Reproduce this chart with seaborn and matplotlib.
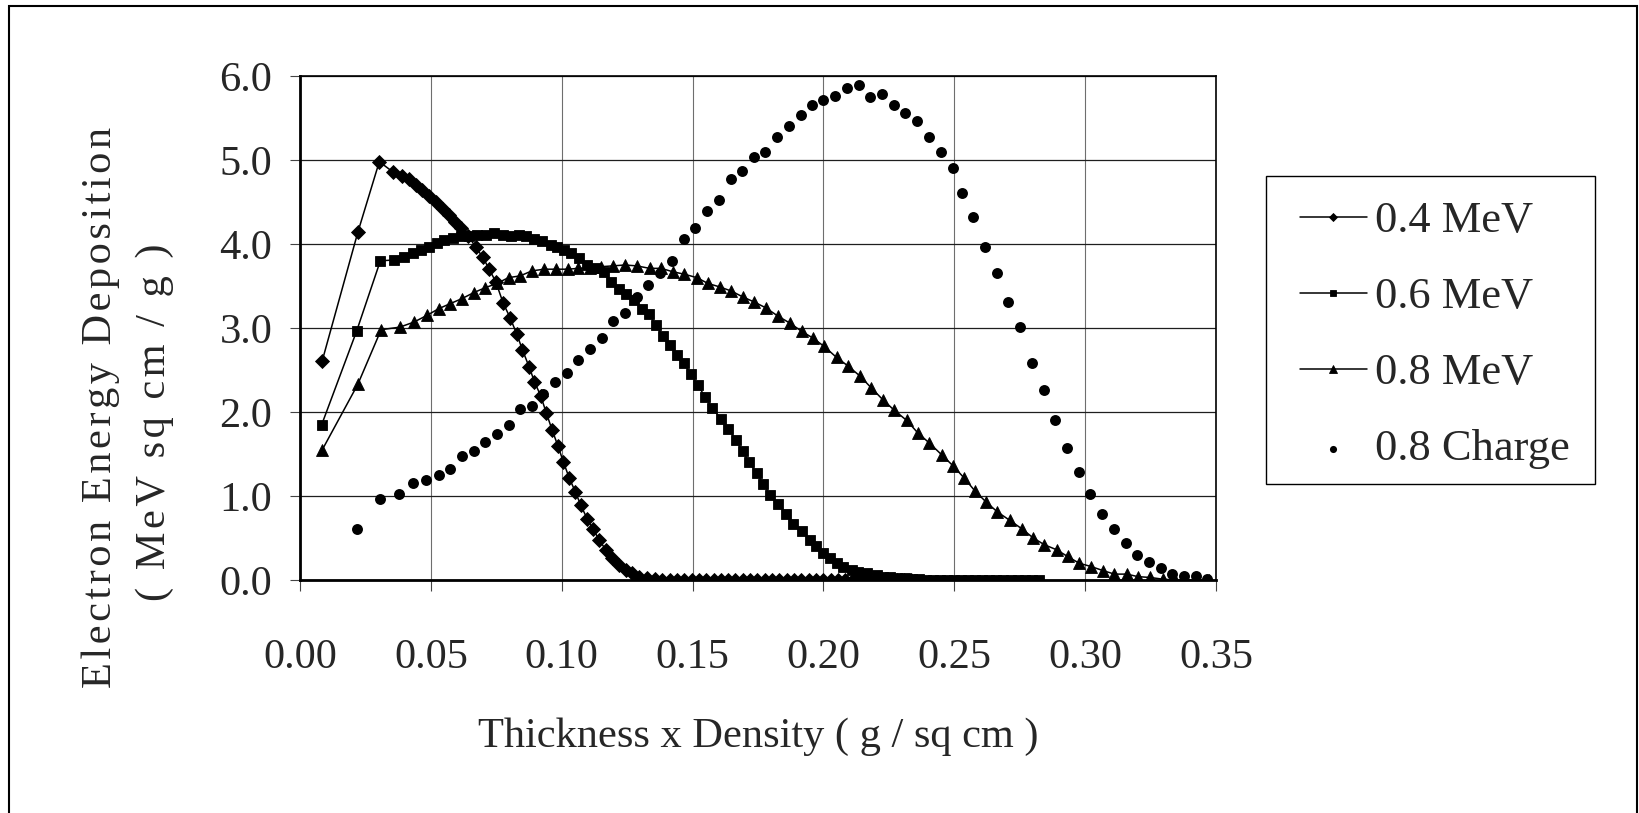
import matplotlib
matplotlib.use("Agg")
import matplotlib.pyplot as plt
from matplotlib.patches import Rectangle
import seaborn as sns

# values
x_04 = [0.0085, 0.0221, 0.0303, 0.0354, 0.0388, 0.0417, 0.0443, 0.0468, 0.0494, 0.0519,
        0.0545, 0.0568, 0.0593, 0.0617, 0.0642, 0.0672, 0.0699, 0.0723, 0.0748, 0.0776,
        0.0803, 0.0828, 0.0850, 0.0875, 0.0896, 0.0920, 0.0941, 0.0963, 0.0985, 0.1006,
        0.1028, 0.1052, 0.1073, 0.1097, 0.1119, 0.1143, 0.1168, 0.1193, 0.1219, 0.1244,
        0.1270, 0.1296, 0.1325, 0.1355,
        0.1384, 0.1412, 0.1440, 0.1468, 0.1496, 0.1524, 0.1552, 0.1580, 0.1608, 0.1636,
        0.1664, 0.1692, 0.1720, 0.1748, 0.1776, 0.1804, 0.1832, 0.1860, 0.1888, 0.1916,
        0.1944, 0.1972, 0.2000, 0.2028, 0.2056, 0.2084, 0.2112, 0.2140, 0.2168, 0.2196,
        0.2224, 0.2252, 0.2280, 0.2308, 0.2336]
y_04 = [2.61, 4.14, 4.98, 4.86, 4.81, 4.77, 4.70, 4.64, 4.57, 4.50,
        4.42, 4.34, 4.26, 4.19, 4.10, 3.96, 3.84, 3.70, 3.55, 3.30,
        3.12, 2.93, 2.74, 2.54, 2.36, 2.19, 1.99, 1.79, 1.60, 1.41,
        1.22, 1.05, 0.89, 0.73, 0.61, 0.48, 0.36, 0.26, 0.18, 0.12,
        0.08, 0.04, 0.02, 0.01,
        0.0, 0.0, 0.0, 0.0, 0.0, 0.0, 0.0, 0.0, 0.0, 0.0,
        0.0, 0.0, 0.0, 0.0, 0.0, 0.0, 0.0, 0.0, 0.0, 0.0,
        0.0, 0.0, 0.0, 0.0, 0.0, 0.0, 0.0, 0.0, 0.0, 0.0,
        0.0, 0.0, 0.0, 0.0, 0.0]

x_06 = [0.0083, 0.0216, 0.0307, 0.0360, 0.0396, 0.0430, 0.0462, 0.0494, 0.0523, 0.0551,
        0.0583, 0.0615, 0.0646, 0.0678, 0.0710, 0.0742, 0.0774, 0.0805, 0.0837, 0.0863,
        0.0894, 0.0926, 0.0958, 0.0983, 0.1009, 0.1034, 0.1066, 0.1098, 0.1130, 0.1162,
        0.1187, 0.1219, 0.1244, 0.1276, 0.1308, 0.1333, 0.1359, 0.1387, 0.1415, 0.1440,
        0.1466, 0.1494, 0.1520, 0.1548, 0.1574, 0.1608, 0.1637, 0.1665, 0.1692, 0.1716,
        0.1746, 0.1771, 0.1796, 0.1826, 0.1858, 0.1885, 0.1917, 0.1947, 0.1972, 0.1997,
        0.2025, 0.2051, 0.2076, 0.2108, 0.2134, 0.2165, 0.2204, 0.2229,
        0.2256, 0.2283, 0.2310, 0.2337, 0.2364, 0.2391, 0.2418, 0.2445, 0.2472, 0.2499,
        0.2526, 0.2553, 0.2580, 0.2607, 0.2634, 0.2661, 0.2688, 0.2715, 0.2742, 0.2769,
        0.2796, 0.2823]
y_06 = [1.85, 2.96, 3.80, 3.81, 3.85, 3.89, 3.93, 3.97, 4.01, 4.05,
        4.07, 4.09, 4.10, 4.11, 4.11, 4.13, 4.11, 4.10, 4.11, 4.09,
        4.06, 4.04, 3.99, 3.97, 3.93, 3.89, 3.83, 3.75, 3.71, 3.67,
        3.55, 3.47, 3.41, 3.33, 3.23, 3.17, 3.04, 2.90, 2.80, 2.68,
        2.58, 2.45, 2.32, 2.18, 2.05, 1.92, 1.80, 1.67, 1.53, 1.40,
        1.27, 1.14, 1.01, 0.91, 0.79, 0.67, 0.58, 0.48, 0.40, 0.32,
        0.26, 0.20, 0.16, 0.12, 0.10, 0.08, 0.06, 0.04,
        0.03, 0.02, 0.02, 0.01, 0.01, 0.0, 0.0, 0.0, 0.0, 0.0,
        0.0, 0.0, 0.0, 0.0, 0.0, 0.0, 0.0, 0.0, 0.0, 0.0,
        0.0, 0.0]

x_08 = [0.0085, 0.0221, 0.0310, 0.0381, 0.0435, 0.0485, 0.0530, 0.0574, 0.0619, 0.0663,
        0.0708, 0.0752, 0.0797, 0.0841, 0.0886, 0.0933, 0.0978, 0.1023, 0.1064, 0.1108,
        0.1152, 0.1197, 0.1241, 0.1286, 0.1336, 0.1380, 0.1424, 0.1469, 0.1516, 0.1559,
        0.1603, 0.1648, 0.1692, 0.1735, 0.1780, 0.1827, 0.1871, 0.1917, 0.1960, 0.2003,
        0.2050, 0.2093, 0.2139, 0.2182, 0.2229, 0.2271, 0.2318, 0.2361, 0.2405, 0.2452,
        0.2495, 0.2536, 0.2579, 0.2621, 0.2665, 0.2712, 0.2758, 0.2802, 0.2844, 0.2891,
        0.2933, 0.2977, 0.3023, 0.3070, 0.3112, 0.3159, 0.3202, 0.3249, 0.3296, 0.3343,
        0.3385, 0.3428, 0.3475]
y_08 = [1.55, 2.33, 2.98, 3.01, 3.07, 3.15, 3.23, 3.29, 3.35, 3.42,
        3.48, 3.53, 3.60, 3.62, 3.68, 3.70, 3.70, 3.70, 3.71, 3.72,
        3.73, 3.74, 3.75, 3.74, 3.71, 3.71, 3.67, 3.64, 3.60, 3.53,
        3.49, 3.44, 3.37, 3.31, 3.24, 3.14, 3.06, 2.96, 2.88, 2.78,
        2.65, 2.55, 2.43, 2.29, 2.14, 2.02, 1.90, 1.75, 1.63, 1.49,
        1.36, 1.22, 1.06, 0.93, 0.81, 0.71, 0.61, 0.50, 0.42, 0.36,
        0.28, 0.20, 0.16, 0.11, 0.07, 0.07, 0.04, 0.03, 0.01, 0.0,
        0.0, 0.0, 0.0]

x_charge = [0.0216, 0.0305, 0.0377, 0.0432, 0.0483, 0.0530, 0.0574, 0.0619, 0.0663, 0.0708,
            0.0752, 0.0797, 0.0841, 0.0886, 0.0930, 0.0975, 0.1019, 0.1064, 0.1108, 0.1153,
            0.1197, 0.1241, 0.1286, 0.1330, 0.1376, 0.1421, 0.1466, 0.1509, 0.1555, 0.1600,
            0.1645, 0.1688, 0.1734, 0.1777, 0.1822, 0.1868, 0.1913, 0.1956, 0.2000, 0.2045,
            0.2090, 0.2136, 0.2179, 0.2224, 0.2268, 0.2313, 0.2358, 0.2403, 0.2449, 0.2494,
            0.2530, 0.2573, 0.2617, 0.2662, 0.2707, 0.2752, 0.2797, 0.2841, 0.2886, 0.2931,
            0.2977, 0.3020, 0.3065, 0.3110, 0.3156, 0.3199, 0.3244, 0.3289, 0.3333, 0.3379,
            0.3422, 0.3467]
y_charge = [0.61, 0.96, 1.02, 1.15, 1.19, 1.25, 1.32, 1.48, 1.54, 1.64,
            1.74, 1.84, 2.03, 2.07, 2.21, 2.36, 2.46, 2.62, 2.75, 2.88,
            3.08, 3.18, 3.37, 3.51, 3.65, 3.80, 4.06, 4.19, 4.39, 4.52,
            4.77, 4.87, 5.04, 5.10, 5.27, 5.40, 5.53, 5.66, 5.72, 5.76,
            5.86, 5.89, 5.75, 5.79, 5.66, 5.56, 5.46, 5.27, 5.10, 4.91,
            4.61, 4.32, 3.96, 3.66, 3.31, 3.01, 2.58, 2.26, 1.90, 1.57,
            1.28, 1.02, 0.79, 0.61, 0.44, 0.30, 0.21, 0.14, 0.07, 0.05,
            0.05, 0.01]

series_labels = ["0.4 MeV", "0.6 MeV", "0.8 MeV", "0.8 Charge"]
x_ticks = [0.00, 0.05, 0.10, 0.15, 0.20, 0.25, 0.30, 0.35]
x_tick_labels = ["0.00", "0.05", "0.10", "0.15", "0.20", "0.25", "0.30", "0.35"]
y_ticks = [0, 1, 2, 3, 4, 5, 6]
y_tick_labels = ["0.0", "1.0", "2.0", "3.0", "4.0", "5.0", "6.0"]

sns.set_style("white")
plt.rcParams["font.family"] = ["Liberation Serif", "DejaVu Serif"]

W, H = 1639, 813
fig = plt.figure(figsize=(W / 100, H / 100), dpi=100)
ax = fig.add_axes([300 / W, 1 - 580 / H, 916 / W, 504 / H])

line_kw = dict(ax=ax, color="black", lw=1.1, sort=False, estimator=None,
               markeredgecolor="black", markeredgewidth=0.6)
sns.lineplot(x=x_04, y=y_04, marker="D", markersize=6.8, label=series_labels[0], **line_kw)
sns.lineplot(x=x_06, y=y_06, marker="s", markersize=7, label=series_labels[1], **line_kw)
sns.lineplot(x=x_08, y=y_08, marker="^", markersize=8.5, label=series_labels[2], **line_kw)
sns.scatterplot(x=x_charge, y=y_charge, ax=ax, color="black", marker="o", s=62,
                linewidth=0, label=series_labels[3], zorder=4)

ax.set_xlim(0, 0.35)
ax.set_ylim(0, 6)
ax.set_xticks(x_ticks)
ax.set_xticklabels(x_tick_labels)
ax.set_yticks(y_ticks)
ax.set_yticklabels(y_tick_labels)

ax.set_axisbelow(True)
ax.yaxis.grid(True, color="#1e1e1e", lw=0.9)
ax.xaxis.grid(True, color="#6e6e6e", lw=0.8)

for side in ["left", "bottom"]:
    ax.spines[side].set_linewidth(2.0)
    ax.spines[side].set_color("black")
for side in ["top", "right"]:
    ax.spines[side].set_linewidth(1.2)
    ax.spines[side].set_color("black")

ax.tick_params(axis="y", left=True, direction="out", length=7, width=0.8,
               color="#444444", pad=13, labelsize=30.5)
ax.tick_params(axis="x", bottom=True, direction="out", length=8, width=0.8,
               color="#444444", pad=34, labelsize=30.5)

ax.set_xlabel("Thickness x Density ( g / sq cm )", fontsize=30.5)
ax.xaxis.set_label_coords(0.5, -0.272)
ax.set_ylabel("")

# y title: two lines, spread out like the original
hair = "\u200a"
fig.text(101 / W, 1 - 407 / H, hair.join("Electron Energy Deposition"),
         rotation=90, ha="center", va="center", fontsize=30.5)
fig.text(155 / W, 1 - 422 / H, hair.join("( MeV sq cm / g )"),
         rotation=90, ha="center", va="center", fontsize=30.5)

# legend entries without frame; the box is drawn separately to match the original padding
leg = ax.legend(loc="upper left", bbox_to_anchor=(1300 / W, 1 - 201 / H),
                bbox_transform=fig.transFigure, borderaxespad=0, borderpad=0,
                frameon=False, fontsize=32, labelspacing=0.81, handlelength=1.5,
                handletextpad=0.18, markerscale=0.65)
fig.patches.append(Rectangle((1266 / W, 1 - 484 / H), (1595 - 1266) / W, (484 - 176) / H,
                             transform=fig.transFigure, fill=False, lw=1.0, ec="black"))

# outer chart border (open at the bottom, as in the original)
fig.patches.append(Rectangle((8.5 / W, -0.05), (1636.5 - 8.5) / W, 1.05 - 6.5 / H,
                             transform=fig.transFigure, fill=False,
                             lw=1.5, ec="black"))

fig.savefig("out.png", dpi=100)
